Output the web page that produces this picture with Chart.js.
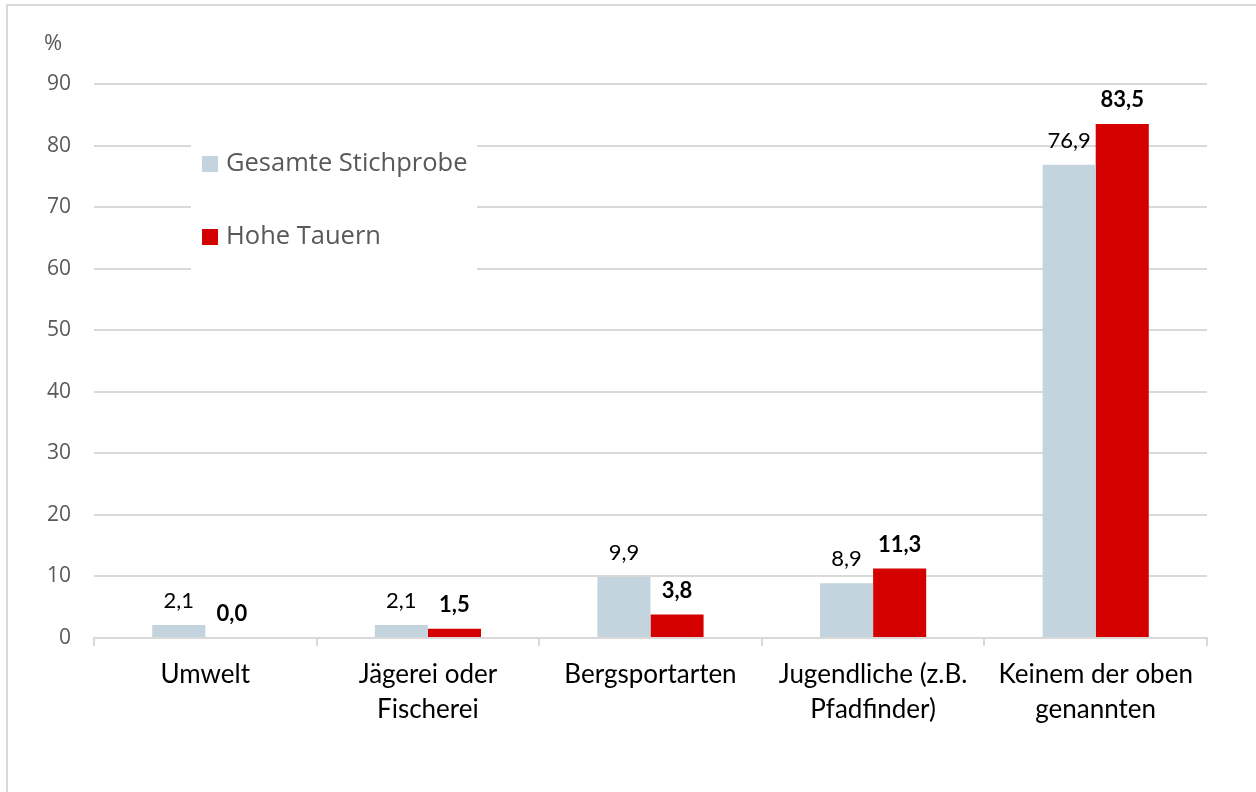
<!DOCTYPE html>
<html>
<head>
<meta charset="utf-8">
<script src="https://cdn.jsdelivr.net/npm/chart.js@4"></script>
<style>
  html, body { margin: 0; padding: 0; background: #fff; }
  #wrap { position: absolute; left: 0; top: 0; width: 1256px; height: 792px; }
</style>
</head>
<body>
<div id="wrap"><canvas id="chart-area" width="1256" height="792"></canvas></div>
<script>
// data
var categories = [
    ["Umwelt"],
    ["Jägerei oder", "Fischerei"],
    ["Bergsportarten"],
    ["Jugendliche (z.B.", "Pfadfinder)"],
    ["Keinem der oben", "genannten"]
];
var gesamt = [2.1, 2.1, 9.9, 8.9, 76.9];
var hoheTauern = [0.0, 1.5, 3.8, 11.3, 83.5];
var seriesNames = ["Gesamte Stichprobe", "Hohe Tauern"];
var yTicks = [0, 10, 20, 30, 40, 50, 60, 70, 80, 90];

var colors = {
    grey: "#c4d4df",
    red: "#d40000",
    grid: "#d9d9d9",
    text: "#595959"
};

function fmt(v) {
    return v.toFixed(1).replace(".", ",");
}

// frame, "%" unit label, value labels and the boxed legend
var extras = {
    id: "extras",
    beforeDraw: function (chart) {
        var ctx = chart.ctx;
        ctx.save();
        ctx.fillStyle = "#fff";
        ctx.fillRect(0, 0, chart.width, chart.height);
        ctx.fillStyle = colors.grid;
        ctx.fillRect(6, 4, chart.width - 6, 2);
        ctx.fillRect(6, 4, 2, chart.height - 4);
        ctx.restore();
    },
    afterDatasetsDraw: function (chart) {
        var ctx = chart.ctx;
        ctx.save();
        ctx.textAlign = "center";
        ctx.textBaseline = "middle";
        chart.data.datasets.forEach(function (ds, di) {
            var meta = chart.getDatasetMeta(di);
            ctx.font = (di == 1 ? "bold " : "") + "22px Lato";
            ctx.fillStyle = "#000";
            meta.data.forEach(function (bar, i) {
                ctx.fillText(fmt(ds.data[i]), bar.x, bar.y - 24);
            });
        });

        // legend box over the grid
        ctx.fillStyle = "#fff";
        ctx.fillRect(191, 126, 286, 150);
        ctx.textAlign = "left";
        ctx.font = "25.5px 'Open Sans'";
        var rows = [164, 237];
        chart.data.datasets.forEach(function (ds, di) {
            ctx.fillStyle = ds.backgroundColor;
            ctx.fillRect(202, rows[di] - 8, 16, 16);
            ctx.fillStyle = colors.text;
            ctx.fillText(ds.label, 226, rows[di]);
        });

        ctx.font = "22px 'Open Sans'";
        ctx.fillStyle = colors.text;
        ctx.fillText("%", 44, 44);
        ctx.restore();
    }
};

var config = {
    type: "bar",
    data: {
        labels: categories,
        datasets: [{
            label: seriesNames[0],
            data: gesamt,
            backgroundColor: colors.grey,
            categoryPercentage: 0.477,
            barPercentage: 1
        }, {
            label: seriesNames[1],
            data: hoheTauern,
            backgroundColor: colors.red,
            categoryPercentage: 0.477,
            barPercentage: 1
        }]
    },
    options: {
        responsive: false,
        animation: false,
        layout: { padding: { left: 0, right: 49, top: 84, bottom: 0 } },
        plugins: {
            legend: { display: false },
            tooltip: { enabled: false }
        },
        scales: {
            x: {
                grid: {
                    offset: true,
                    drawOnChartArea: false,
                    drawTicks: true,
                    tickLength: 8,
                    color: colors.grid,
                    lineWidth: 2
                },
                border: { display: true, color: colors.grid, width: 2 },
                ticks: {
                    color: "#000",
                    font: { family: "Lato", size: 26, lineHeight: 1.35 },
                    padding: 11,
                    maxRotation: 0,
                    autoSkip: false
                },
                afterFit: function (s) { s.height = 154; }
            },
            y: {
                min: 0,
                max: 90,
                afterBuildTicks: function (s) {
                    s.ticks = yTicks.map(function (v) { return { value: v }; });
                },
                grid: { color: colors.grid, lineWidth: 2, drawTicks: false },
                border: { display: false },
                ticks: {
                    color: colors.text,
                    font: { family: "Open Sans", size: 21 },
                    padding: 23
                },
                afterFit: function (s) { s.width = 94; }
            }
        }
    },
    plugins: [extras]
};

var canvas = document.getElementById("chart-area").getContext("2d");
var chart = new Chart(canvas, config);
</script>
</body>
</html>
